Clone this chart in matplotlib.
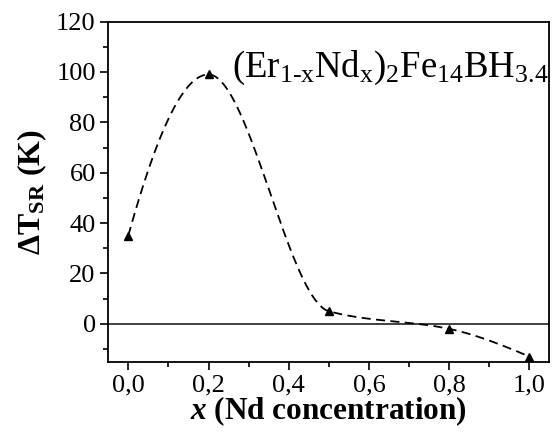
import numpy as np
import matplotlib
matplotlib.use("Agg")
import matplotlib.pyplot as plt
from matplotlib.ticker import MultipleLocator, FuncFormatter

plt.rcParams['font.family'] = ['Liberation Serif', 'DejaVu Serif']
plt.rcParams['mathtext.fontset'] = 'custom'
plt.rcParams['mathtext.rm'] = 'Liberation Serif'
plt.rcParams['mathtext.it'] = 'Liberation Serif:italic'
plt.rcParams['mathtext.bf'] = 'Liberation Serif:bold'
plt.rcParams['mathtext.bfit'] = 'Liberation Serif:italic:bold'

# data
nd_conc = [0.0, 0.2, 0.5, 0.8, 1.0]
delta_t = [35, 99, 5, -2, -13]


def pchip_curve(x, y, n=300):
    # monotone cubic (PCHIP) line through the points, for drawing only
    x = np.asarray(x, float)
    y = np.asarray(y, float)
    h = np.diff(x)
    d = np.diff(y) / h
    m = np.zeros_like(y)
    for k in range(1, len(x) - 1):
        if d[k - 1] * d[k] > 0:
            w1 = 2 * h[k] + h[k - 1]
            w2 = h[k] + 2 * h[k - 1]
            m[k] = (w1 + w2) / (w1 / d[k - 1] + w2 / d[k])
    m[0] = ((2 * h[0] + h[1]) * d[0] - h[0] * d[1]) / (h[0] + h[1])
    if np.sign(m[0]) != np.sign(d[0]):
        m[0] = 0
    m[-1] = ((2 * h[-1] + h[-2]) * d[-1] - h[-1] * d[-2]) / (h[-1] + h[-2])
    if np.sign(m[-1]) != np.sign(d[-1]):
        m[-1] = 0
    xs = np.linspace(x[0], x[-1], n)
    idx = np.clip(np.searchsorted(x, xs) - 1, 0, len(x) - 2)
    t = (xs - x[idx]) / h[idx]
    h00 = 2 * t**3 - 3 * t**2 + 1
    h10 = t**3 - 2 * t**2 + t
    h01 = -2 * t**3 + 3 * t**2
    h11 = t**3 - t**2
    ys = h00 * y[idx] + h10 * h[idx] * m[idx] + h01 * y[idx + 1] + h11 * h[idx] * m[idx + 1]
    return xs, ys


fig = plt.figure(figsize=(5.55, 4.32), dpi=100)
ax = fig.add_axes([0.195, 0.163, 0.795, 0.787])

ax.axhline(0, color='#333333', lw=1.3, zorder=1)

xs, ys = pchip_curve(nd_conc, delta_t)
ax.plot(xs, ys, color='black', lw=1.3, dashes=(5, 3), zorder=2)
ax.plot(nd_conc, delta_t, linestyle='none', marker='^', color='black',
        markersize=6, zorder=3)

ax.set_xlim(-0.05, 1.05)
ax.set_ylim(-15, 120)
ax.xaxis.set_major_locator(MultipleLocator(0.2))
ax.xaxis.set_minor_locator(MultipleLocator(0.1))
ax.yaxis.set_major_locator(MultipleLocator(20))
ax.yaxis.set_minor_locator(MultipleLocator(10))
ax.xaxis.set_major_formatter(FuncFormatter(lambda v, p: f"{v:.1f}".replace('.', ',')))
ax.yaxis.set_major_formatter(FuncFormatter(lambda v, p: f"{v:.0f}"))

ax.tick_params(which='both', direction='out', top=False, right=False,
               labelsize=19, width=1.2, pad=3)
ax.tick_params(which='major', length=6)
ax.tick_params(which='minor', length=3.5)
for s in ax.spines.values():
    s.set_linewidth(1.3)

ax.set_xlabel(r'$\mathbfit{x}$ (Nd concentration)', fontsize=22.5,
              fontweight='bold', labelpad=-1)
ax.set_ylabel(r'$\mathbf{\Delta T_{SR}}$ (K)', fontsize=23,
              fontweight='bold', labelpad=5)

ax.text(0.998, 0.837, r'$\mathrm{(Er_{1\text{-}x}Nd_{x})_{2}Fe_{14}BH_{3.4}}$',
        transform=ax.transAxes, fontsize=26.5, ha='right', va='baseline')

fig.savefig('out.png', dpi=100)
